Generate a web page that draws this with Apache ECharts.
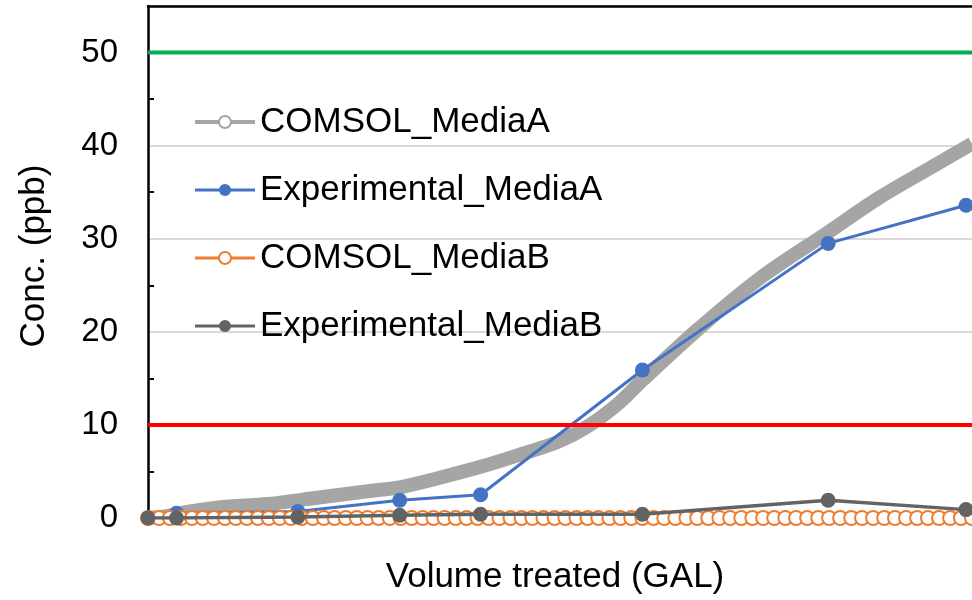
<!DOCTYPE html>
<html>
<head>
<meta charset="utf-8">
<script src="https://cdn.jsdelivr.net/npm/echarts@6/dist/echarts.min.js"></script>
<style>
html,body{margin:0;padding:0;background:#fff;}
#chart{width:972px;height:600px;}
</style>
</head>
<body>
<div id="chart"></div>
<script>
// ---- data (x = volume treated, GAL; y = concentration, ppb) ----
var seriesNames = ['COMSOL_MediaA', 'Experimental_MediaA', 'COMSOL_MediaB', 'Experimental_MediaB'];

var comsolAX = [0, 60, 140, 260, 400, 570, 740, 840, 970, 1110, 1240, 1370, 1470, 1570, 1650, 1840, 2040, 2270, 2440, 2610, 2750];
var comsolAY = [0, 0.2, 0.7, 1.2, 1.5, 2.2, 2.9, 3.3, 4.3, 5.5, 6.8, 8.2, 9.9, 12.3, 14.8, 20.4, 25.7, 30.7, 34.4, 37.6, 40.2];

var expX  = [0, 95, 500, 840, 1110, 1650, 2270, 2730];
var expAY = [0, 0.5, 0.7, 1.9, 2.5, 15.9, 29.5, 33.6];
var expBY = [0, 0, 0.1, 0.3, 0.4, 0.4, 1.9, 0.9];

var comsolBX = [0, 37, 73, 110, 147, 183, 220, 257, 293, 330, 367, 403, 440, 477, 513, 550, 587, 623, 660, 697,
                733, 770, 807, 843, 880, 917, 953, 990, 1027, 1063, 1100, 1137, 1173, 1210, 1247, 1283, 1320, 1357, 1393, 1430,
                1467, 1503, 1540, 1577, 1613, 1650, 1687, 1723, 1760, 1797, 1833, 1870, 1907, 1943, 1980, 2017, 2053, 2090, 2127, 2163,
                2200, 2237, 2273, 2310, 2347, 2383, 2420, 2457, 2493, 2530, 2567, 2603, 2640, 2677, 2713, 2750];
var comsolBY = [0, 0, 0, 0, 0, 0, 0, 0, 0, 0, 0, 0, 0, 0, 0, 0, 0, 0, 0, 0,
                0, 0, 0, 0, 0, 0, 0, 0, 0, 0, 0, 0, 0, 0, 0, 0, 0, 0, 0, 0,
                0, 0, 0, 0, 0, 0, 0, 0, 0, 0, 0, 0, 0, 0, 0, 0, 0, 0, 0, 0,
                0, 0, 0, 0, 0, 0, 0, 0, 0, 0, 0, 0, 0, 0, 0, 0];

var limitX = [0, 2750];
var upperLimit = [50, 50];
var lowerLimit = [10, 10];

var xName = 'Volume treated (GAL)';
var yName = 'Conc. (ppb)';

function pairs(xs, ys) { return xs.map(function (x, i) { return [x, ys[i]]; }); }

var FONT = "'Liberation Sans', Arial, sans-serif";
var chart = echarts.init(document.getElementById('chart'), null, {renderer: 'canvas'});

chart.setOption({
  animation: false,
  backgroundColor: '#ffffff',
  grid: {left: 148, right: 0, top: 6, bottom: 82, containLabel: false},
  legend: {
    orient: 'vertical',
    left: 188,
    top: 97,
    itemWidth: 60,
    itemHeight: 15,
    itemGap: 28,
    textStyle: {fontFamily: FONT, fontSize: 35, color: '#000', lineHeight: 40},
    data: [
      {name: seriesNames[0], lineStyle: {width: 4, color: '#A5A5A5'}, itemStyle: {color: '#A5A5A5', borderColor: '#A5A5A5'}},
      {name: seriesNames[1], lineStyle: {width: 3, color: '#4472C4'}},
      {name: seriesNames[2], lineStyle: {width: 3, color: '#ED7D31'}},
      {name: seriesNames[3], lineStyle: {width: 3, color: '#636363'}}
    ]
  },
  xAxis: [{
    type: 'value', min: 0, max: 2750,
    name: xName, nameLocation: 'middle', nameGap: 42,
    nameTextStyle: {fontFamily: FONT, fontSize: 35, color: '#000', padding: [0, 10, 0, 0]},
    axisLine: {show: false}, axisTick: {show: false}, axisLabel: {show: false}, splitLine: {show: false}
  }, {
    type: 'value', min: 0, max: 2750, position: 'top',
    axisLine: {show: true, lineStyle: {color: '#000', width: 2.5}},
    axisTick: {show: false}, axisLabel: {show: false}, splitLine: {show: false}
  }],
  yAxis: {
    type: 'value', min: 0, max: 55, interval: 10,
    name: yName, nameLocation: 'middle', nameGap: 96, nameRotate: 90,
    nameTextStyle: {fontFamily: FONT, fontSize: 35, color: '#000', padding: [0, 0, 0, 12]},
    axisLine: {show: true, lineStyle: {color: '#000', width: 2.5}},
    axisTick: {show: false, inside: true, length: 6},
    minorTick: {show: true, splitNumber: 2, length: 6, lineStyle: {color: '#000', width: 2}},
    axisLabel: {fontFamily: FONT, fontSize: 33, color: '#000', margin: 30, showMaxLabel: false},
    splitLine: {show: true, lineStyle: {color: '#D9D9D9', width: 2}}
  },
  series: [
    {
      name: seriesNames[0], type: 'line', data: pairs(comsolAX, comsolAY),
      smooth: 0.35, symbol: 'emptyCircle', showSymbol: false,
      lineStyle: {color: '#A5A5A5', width: 14}, itemStyle: {color: '#A5A5A5'}, z: 2
    },
    {
      name: seriesNames[1], type: 'line', data: pairs(expX, expAY),
      symbol: 'circle', symbolSize: 15,
      lineStyle: {color: '#4472C4', width: 3}, itemStyle: {color: '#4472C4'}, z: 3
    },
    {
      name: seriesNames[2], type: 'line', data: pairs(comsolBX, comsolBY),
      symbol: 'emptyCircle', symbolSize: 14, showAllSymbol: true,
      lineStyle: {color: '#ED7D31', width: 2}, itemStyle: {color: '#ED7D31', borderWidth: 2.5}, z: 4
    },
    {
      name: seriesNames[3], type: 'line', data: pairs(expX, expBY),
      symbol: 'circle', symbolSize: 15,
      lineStyle: {color: '#636363', width: 3.5}, itemStyle: {color: '#636363'}, z: 5
    },
    {
      name: 'upper', type: 'line', data: pairs(limitX, upperLimit), symbol: 'none', silent: true,
      lineStyle: {color: '#00B050', width: 4}, z: 6
    },
    {
      name: 'lower', type: 'line', data: pairs(limitX, lowerLimit), symbol: 'none', silent: true,
      lineStyle: {color: '#FF0000', width: 4}, z: 6
    }
  ]
});
</script>
</body>
</html>
